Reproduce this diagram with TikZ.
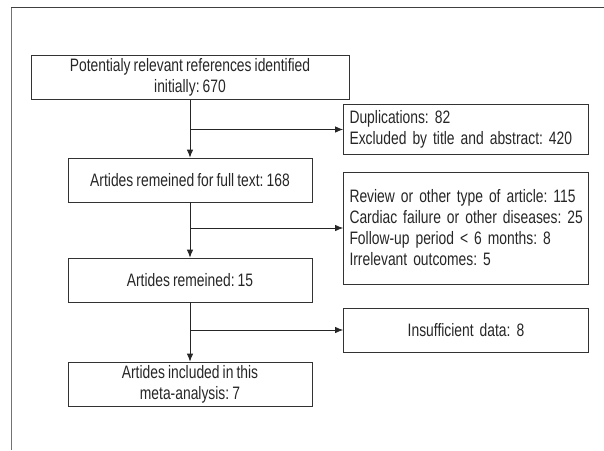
\documentclass[tikz,border=0pt]{standalone}
\usepackage{fontspec}
\setmainfont{Liberation Sans}[FakeStretch=0.77, WordSpace=0.8]
\usetikzlibrary{arrows.meta}

\begin{document}
\begin{tikzpicture}[x=1pt,y=-1pt,
	stage/.style={draw=black!80, line width=0.8pt, minimum width=244pt, minimum height=44pt, align=center, inner sep=1pt},
	excl/.style={draw=black!80, line width=0.8pt, minimum width=245pt, inner xsep=6pt, text width=233pt, align=left},
	flow/.style={line width=0.8pt, draw=black!85, -{Latex[length=8pt,width=6.5pt]}}]
	\useasboundingbox (0,0) rectangle (604,450);
	\fontsize{18}{21}\selectfont\frenchspacing
	\color{black!85}
	% frame
	\draw[black!55, line width=0.8pt] (11,450) -- (11,7);
	\draw[black!75, line width=0.8pt] (11,7) -- (604,7);

	\node[stage, minimum width=318pt] (b1) at (190,77.5) {Potentialy relevant references identified\\initially: 670};
	\node[stage] (b2) at (190,180) {Artides remeined for full text: 168};
	\node[stage] (b3) at (190,280) {Artides remeined: 15};
	\node[stage] (b4) at (190,384) {Artides included in this\\meta-analysis: 7};

	\node[excl, minimum height=49pt] (d1) at (466,129.5) {Duplications: 82\\Excluded by title and abstract: 420};
	\node[excl, minimum height=112pt] (d2) at (466,228) {Review or other type of article: 115\\\mbox{Cardiac failure or other diseases: 25}\\Follow-up period < 6 months: 8\\Irrelevant outcomes: 5};
	\node[excl, minimum height=44pt, align=center] (d3) at (466,330) {Insufficient data: 8};

	\coordinate (j1) at (b1.south |- d1.west);
	\coordinate (j2) at (b2.south |- d2.west);
	\coordinate (j3) at (b3.south |- d3.west);

	\draw[flow] (b1) -- (b2);
	\draw[flow] (b2) -- (b3);
	\draw[flow] (b3) -- (b4);
	\draw[flow] (j1) -- (d1);
	\draw[flow] (j2) -- (d2);
	\draw[flow] (j3) -- (d3);
\end{tikzpicture}
\end{document}
